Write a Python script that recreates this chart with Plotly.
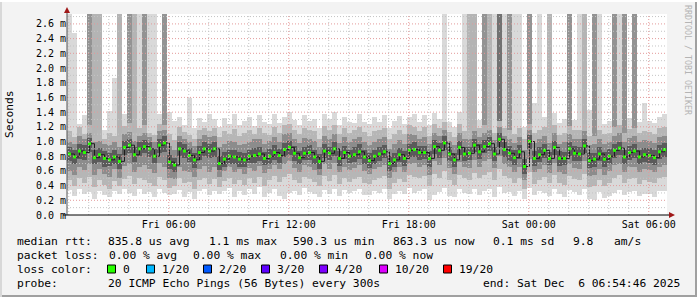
import plotly.graph_objects as go
import pandas as pd

# ---------------- data (values in hundredths of a millisecond) ----------------
START = "2025-12-05 00:54:46"
END = "2025-12-06 06:54:46"
STEP = "15min"

med = [83,79,87,85,97,78,82,77,75,79,73,92,95,82,90,93,90,80,95,98,72,68,90,87,81,75,85,90,87,90,
       70,76,80,79,76,75,80,81,83,77,80,85,81,89,92,84,78,84,85,79,73,87,84,90,77,85,80,82,86,79,
       74,80,83,86,70,75,82,77,88,89,85,85,77,93,88,98,83,75,92,83,84,95,86,93,97,83,103,89,84,78,
       86,66,100,77,82,88,77,92,77,77,90,84,83,94,74,76,83,76,80,88,91,79,85,87,79,82,81,78,86,89]

lo4 = [74,70,76,75,86,69,72,66,67,70,63,82,84,72,80,84,79,71,85,86,62,58,80,77,72,64,75,80,77,79,
       61,66,70,69,66,66,71,71,73,68,70,75,71,79,82,74,69,75,75,69,63,77,75,80,67,76,71,72,76,70,
       64,70,73,77,60,65,72,67,79,79,75,76,66,83,78,88,73,65,82,73,75,86,76,84,87,73,93,79,74,68,
       76,56,90,67,72,78,68,82,67,68,80,74,73,84,64,66,73,66,70,78,81,69,75,77,69,72,71,68,76,79]
hi4 = [92,88,96,95,105,89,91,87,84,88,83,101,104,93,99,102,99,90,104,107,82,78,99,96,91,85,94,99,96,99,
       80,86,89,88,86,84,89,91,93,86,90,95,90,98,101,94,87,93,95,89,83,97,93,99,87,94,89,92,96,88,
       84,89,93,95,80,85,91,87,97,99,94,94,87,102,98,107,92,85,101,93,93,104,96,102,106,93,112,99,94,88,
       95,76,109,87,92,97,86,101,87,86,99,94,93,103,84,85,92,86,90,97,100,89,94,96,89,91,91,88,95,98]

lo3 = [60,55,66,61,70,54,63,56,52,62,51,67,70,58,66,68,62,57,71,66,50,49,65,60,58,52,63,67,58,66,
       52,60,65,58,62,56,64,60,67,57,63,68,62,70,74,64,59,68,65,61,55,69,63,71,58,66,61,64,68,60,
       56,63,66,68,50,58,65,58,70,71,66,68,55,73,68,77,64,56,72,66,64,75,66,73,76,64,80,70,66,59,
       66,48,76,58,63,68,57,71,59,56,70,64,63,73,53,55,63,55,60,68,70,59,65,66,58,63,61,58,66,68]
hi3 = [100,96,108,103,112,99,101,96,95,100,92,110,113,101,108,112,106,99,114,115,94,89,108,104,100,94,104,109,106,108,
       92,97,101,99,95,96,100,103,104,97,101,106,99,110,112,104,98,105,104,101,93,108,103,110,98,106,99,104,106,100,
       95,100,104,106,90,96,102,97,110,109,104,106,96,112,108,116,101,95,112,103,104,114,106,111,116,102,120,108,104,98,
       106,88,116,98,103,108,98,112,97,99,110,104,103,114,95,96,104,97,100,108,111,99,105,107,100,102,101,98,106,108]

lo2 = [48,40,50,44,52,38,47,41,36,46,40,49,53,42,50,47,44,39,52,48,37,40,50,43,45,36,47,51,42,49,
       38,46,50,42,48,41,50,44,52,40,47,53,45,52,56,48,43,52,49,45,40,53,46,55,42,50,45,49,52,44,
       42,47,50,53,36,44,49,45,55,52,50,53,40,56,50,60,48,41,55,51,48,57,50,55,59,47,62,53,50,44,
       50,36,58,42,48,52,43,55,44,41,53,49,47,56,38,39,48,40,44,51,54,44,49,50,42,47,45,43,50,52]
hi2 = [114,106,120,110,122,108,115,104,112,107,106,121,125,111,118,123,112,109,124,122,110,102,120,113,109,104,116,119,114,118,
       106,114,110,117,108,112,116,110,118,112,109,120,112,122,124,116,110,119,115,114,104,121,116,123,110,119,112,115,120,113,
       108,114,116,119,104,110,116,110,122,120,114,120,108,124,118,126,113,106,124,114,116,124,118,122,126,112,128,119,116,110,
       118,104,124,112,115,120,110,123,109,112,121,116,115,124,107,108,116,110,112,120,122,111,117,119,112,114,113,110,118,120]

lo1 = [34,26,36,29,31,22,33,27,24,32,28,35,30,26,35,29,31,24,36,30,27,29,34,25,31,22,33,35,27,33,
       28,32,37,25,33,27,36,29,38,24,30,36,26,22,30,33,27,37,31,28,25,34,29,36,26,34,30,33,35,27,
       27,33,30,36,22,29,32,28,37,30,33,35,20,27,31,37,26,24,35,30,28,36,27,32,36,25,38,30,31,26,
       32,22,37,27,33,30,26,35,28,24,34,31,27,36,22,21,31,23,26,30,34,27,31,33,26,29,28,25,32,33]
hi1 = [130,248,124,136,140,118,132,116,142,186,126,138,131,120,136,129,122,134,138,125,140,128,134,122,159,118,132,127,138,130,
       120,132,124,138,122,128,134,121,136,127,124,138,125,133,140,129,123,136,128,131,118,137,130,140,122,134,127,125,138,126,
       124,133,126,136,119,128,135,124,134,138,127,136,122,139,130,142,127,120,140,126,131,144,129,138,140,126,146,133,131,125,
       130,120,138,152,127,134,122,139,125,130,136,129,131,140,143,121,133,124,128,136,138,126,132,135,127,152,128,125,133,137]

# bins where pings went off the top of the graph, and how many smoke layers did
spike_bins   = [0, 4, 5, 6, 10, 12, 13, 14, 15, 16, 17, 19,
                75, 79, 80, 81, 83, 84, 85, 86, 87, 88, 89, 90, 92, 94, 96,
                100, 102, 103, 105, 106, 109, 110, 111, 113]
spike_levels = [1, 3, 2, 2, 2, 3, 2, 1, 3, 1, 1, 3,
                1, 1, 2, 2, 3, 2, 1, 4, 1, 3, 1, 1, 3, 1, 2,
                3, 1, 2, 3, 1, 3, 1, 3, 3]

y_ticks = [0.0, 0.2, 0.4, 0.6, 0.8, 1.0, 1.2, 1.4, 1.6, 1.8, 2.0, 2.2, 2.4, 2.6]
y_ticktext = ["%.1f m" % v for v in y_ticks]

loss_labels = ["0", "1/20", "2/20", "3/20", "4/20", "10/20", "19/20"]
loss_colors = ["#26ff00", "#00b8ff", "#0059ff", "#5e00ff", "#7e00ff", "#dd00ff", "#ff0000"]

# ---------------- geometry helpers ----------------
W, H = 697, 297
L, R, T, B = 67, 30, 14, 82
PW, PH = W - L - R, H - T - B
YMAX = 2.735
FONT = "DejaVu Sans Mono"


def px(x):
    return (x - L) / PW


def py(y):
    return (H - B - y) / PH


def ms(a):
    return [v / 100.0 for v in a]


times = pd.date_range(START, periods=len(med), freq=STEP) + pd.Timedelta(minutes=7.5)
bw = 15 * 60 * 1000

fig = go.Figure()


def band(lo, hi, color):
    lo_v, hi_v = ms(lo), ms(hi)
    fig.add_trace(go.Bar(x=times, base=lo_v, y=[h - l for l, h in zip(lo_v, hi_v)],
                         width=bw, marker=dict(color=color, line=dict(width=0)),
                         hoverinfo="skip", showlegend=False))


band(lo1, hi1, "#d9d9d9")
band(lo2, hi2, "#b6b6b6")
band(lo3, hi3, "#8c8c8c")
band(lo4, hi4, "#5a5a5a")

spike_col = {1: "#d9d9d9", 2: "#b4b4b4", 3: "#939393", 4: "#727272"}
sx = [times[i] for i in spike_bins]
sb = [hi2[i] / 100.0 for i in spike_bins]
fig.add_trace(go.Bar(x=sx, base=sb, y=[3.5 - b for b in sb], width=bw,
                     marker=dict(color=[spike_col[l] for l in spike_levels], line=dict(width=0)),
                     hoverinfo="skip", showlegend=False))

fig.add_trace(go.Scatter(x=times, y=ms(med), mode="lines",
                         line=dict(color="#1e1e1e", width=1, shape="hv"),
                         hoverinfo="skip", showlegend=False))
fig.add_trace(go.Scatter(x=times, y=ms(med), mode="markers",
                         marker=dict(symbol="square", size=3, color=loss_colors[0], line=dict(width=0)),
                         hoverinfo="skip", showlegend=False))

shapes = []
# horizontal grid (drawn above the smoke, like rrdtool)
for k in range(1, 28):
    v = k / 10.0
    if v > YMAX:
        break
    major = (k % 2 == 0)
    shapes.append(dict(type="line", xref="paper", yref="y", x0=0, x1=1, y0=v, y1=v, layer="above",
                       line=dict(color="#e39a9a" if major else "#c4c4c4", width=1, dash="1px,2px")))
# vertical grid: every hour, major every 6 hours
t = pd.Timestamp(START).ceil("h")
while t <= pd.Timestamp(END):
    major = (t.hour % 6 == 0)
    shapes.append(dict(type="line", xref="x", yref="paper", x0=t, x1=t, y0=0, y1=1, layer="above",
                       line=dict(color="#e39a9a" if major else "#c4c4c4", width=1, dash="1px,2px")))
    t += pd.Timedelta(hours=1)

# axes lines and arrows
shapes.append(dict(type="line", xref="paper", yref="paper", x0=px(67), x1=px(67), y0=py(215), y1=py(11),
                   layer="above", line=dict(color="#555555", width=1)))
shapes.append(dict(type="line", xref="paper", yref="paper", x0=px(63), x1=px(670), y0=py(215), y1=py(215),
                   layer="above", line=dict(color="#000000", width=1)))
shapes.append(dict(type="path", xref="paper", yref="paper", layer="above",
                   path="M %f %f L %f %f L %f %f Z" % (px(64), py(13), px(70), py(13), px(67), py(7)),
                   fillcolor="#a01818", line=dict(width=0)))
shapes.append(dict(type="path", xref="paper", yref="paper", layer="above",
                   path="M %f %f L %f %f L %f %f Z" % (px(669), py(212), px(669), py(218), px(675), py(215)),
                   fillcolor="#a01818", line=dict(width=0)))
# frame
shapes.append(dict(type="line", xref="paper", yref="paper", x0=px(696), x1=px(696), y0=py(0), y1=py(297),
                   line=dict(color="#a0a0a0", width=2)))
shapes.append(dict(type="line", xref="paper", yref="paper", x0=px(0), x1=px(697), y0=py(296), y1=py(296),
                   line=dict(color="#a0a0a0", width=2)))
shapes.append(dict(type="line", xref="paper", yref="paper", x0=px(1), x1=px(1), y0=py(0), y1=py(297),
                   line=dict(color="#d8d8d8", width=2)))
shapes.append(dict(type="line", xref="paper", yref="paper", x0=px(0), x1=px(697), y0=py(1), y1=py(1),
                   line=dict(color="#ffffff", width=2)))

annotations = []


def txt(x, y, s, size=11.3, color="#000000", anchor="left", angle=0):
    annotations.append(dict(xref="paper", yref="paper", x=px(x), y=py(y), text=s, showarrow=False,
                            xanchor=anchor, yanchor="middle", textangle=angle, borderpad=0,
                            font=dict(family=FONT, size=size, color=color)))


row1 = [(16.4, "median rtt:"), (106.7, "835.8 us avg"), (207.6, "1.1 ms max"), (292.4, "590.3 us min"),
        (392.4, "863.3 us now"), (492.4, "0.1 ms sd"), (572, "9.8"), (613, "am/s")]
for x, s in row1:
    txt(x, 241, s)
row2 = [(16.4, "packet loss:"), (107.6, "0.00 % avg"), (192.4, "0.00 % max"), (279, "0.00 % min"),
        (364.4, "0.00 % now")]
for x, s in row2:
    txt(x, 255.5, s)
txt(16.4, 269, "loss color:")
box_x = [107.5, 146.5, 203.5, 261.5, 319.5, 379.5, 443.5]
for bx, lab, col in zip(box_x, loss_labels, loss_colors):
    shapes.append(dict(type="rect", xref="paper", yref="paper", x0=px(bx), x1=px(bx + 8),
                       y0=py(265), y1=py(273), fillcolor=col, line=dict(color="#000000", width=1)))
    txt(bx + 14, 269, lab)
txt(16.4, 283, "probe:")
txt(107, 283, "20 ICMP Echo Pings (56 Bytes) every 300s")
txt(681, 283, "end: Sat Dec  6 06:54:46 2025", anchor="right")

txt(10, 114, "Seconds", size=11.3, anchor="center", angle=-90)
txt(688, 60, "RRDTOOL / TOBI OETIKER", size=8.3, color="#b4b4b4", anchor="center", angle=90)

fig.update_layout(
    width=W, height=H, margin=dict(l=L, r=R, t=T, b=B, pad=0),
    paper_bgcolor="#f3f3f3", plot_bgcolor="#ffffff",
    barmode="overlay", bargap=0, showlegend=False,
    shapes=shapes, annotations=annotations,
    font=dict(family=FONT, size=10, color="#000000"),
    xaxis=dict(type="date", range=[START, END], tickformat="%a %H:%M", dtick=6 * 3600 * 1000,
               tick0="2025-12-05 00:00:00", showgrid=False, zeroline=False, showline=False,
               ticks="", ticklabelstandoff=2, tickfont=dict(family=FONT, size=10, color="#000000")),
    yaxis=dict(range=[0, YMAX], tickvals=y_ticks, ticktext=y_ticktext, showgrid=False, zeroline=False,
               showline=False, ticks="", tickfont=dict(family=FONT, size=10, color="#000000")),
)

fig.write_html("out.html")
